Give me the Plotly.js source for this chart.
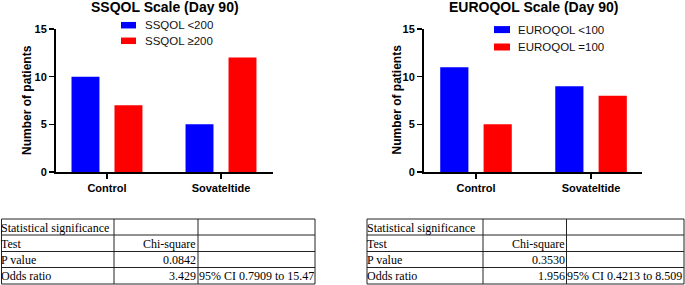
<!DOCTYPE html>
<html><head><meta charset="utf-8">
<script src="https://cdn.plot.ly/plotly-3.0.1.min.js"></script>
<style>html,body{margin:0;padding:0;background:#fff}#chart{width:685px;height:285px}</style>
</head><body><div id="chart"></div><script>
// ---- data ----
const categories = ['Control', 'Sovateltide'];
const ssqolBelow = [10, 5];
const ssqolAbove = [7, 12];
const euroqolBelow = [11, 9];
const euroqolFull = [5, 8];
const ssqolNames = ['SSQOL <200', 'SSQOL \u2265200'];
const euroqolNames = ['EUROQOL <100', 'EUROQOL =100'];
const chartTitles = ['SSQOL Scale (Day 90)', 'EUROQOL Scale (Day 90)'];
const yTickValues = [0, 5, 10, 15];
const yAxisTitle = 'Number of patients';
const rowLabels = ['Statistical significance', 'Test', 'P value', 'Odds ratio'];
const ssqolStat = ['', 'Chi-square', '0.0842', '3.429'];
const ssqolCI = ['', '', '', '95% CI 0.7909 to 15.47'];
const euroqolStat = ['', 'Chi-square', '0.3530', '1.956'];
const euroqolCI = ['', '', '', '95% CI 0.4213 to 8.509'];

// ---- style / layout helpers ----
const W = 685, H = 285;
const px = x => x / W;
const py = y => 1 - y / H;
const BLUE = '#0000ff', RED = '#ff0000';
const sans = 'Liberation Sans, Arial, sans-serif';
const serif = 'Liberation Serif, Times New Roman, serif';

const traces = [
  {type: 'bar', x: categories, y: ssqolBelow, name: ssqolNames[0], marker: {color: BLUE}, xaxis: 'x', yaxis: 'y', showlegend: false},
  {type: 'bar', x: categories, y: ssqolAbove, name: ssqolNames[1], marker: {color: RED}, xaxis: 'x', yaxis: 'y', showlegend: false},
  {type: 'bar', x: categories, y: euroqolBelow, name: euroqolNames[0], marker: {color: BLUE}, xaxis: 'x2', yaxis: 'y2', showlegend: false},
  {type: 'bar', x: categories, y: euroqolFull, name: euroqolNames[1], marker: {color: RED}, xaxis: 'x2', yaxis: 'y2', showlegend: false}
];

function xAx(d0, d1, range, anchor) {
  return {domain: [px(d0), px(d1)], range: range, anchor: anchor, type: 'category',
    showline: true, linecolor: '#000', linewidth: 2, ticks: 'outside', ticklen: 5, tickwidth: 1.5, tickcolor: '#000',
    showgrid: false, zeroline: false, fixedrange: true,
    tickfont: {family: sans, size: 11, weight: 'bold', color: '#000'}};
}
function yAx(anchor) {
  return {domain: [py(172), py(29)], range: [0, 15], anchor: anchor, tickvals: yTickValues,
    showline: true, linecolor: '#000', linewidth: 2, ticks: 'outside', ticklen: 5, tickwidth: 1.5, tickcolor: '#000',
    showgrid: false, zeroline: false, fixedrange: true,
    tickfont: {family: sans, size: 11, weight: 'bold', color: '#000'}};
}

const shapes = [];
const annotations = [];

// chart titles and y-axis titles
[[164.5, chartTitles[0], 27], [533, chartTitles[1], 396.5]].forEach(([cx, t, yx]) => {
  annotations.push({xref: 'paper', yref: 'paper', x: px(cx), y: py(7.5), xanchor: 'center', yanchor: 'middle',
    text: t, showarrow: false, font: {family: sans, size: 14, weight: 'bold', color: '#000'}});
  annotations.push({xref: 'paper', yref: 'paper', x: px(yx), y: py(100), xanchor: 'center', yanchor: 'middle', textangle: -90,
    text: yAxisTitle, showarrow: false, font: {family: sans, size: 12, weight: 'bold', color: '#000'}});
});

// legends
function legend(names, sx0, sx1, tx, rows, sh) {
  [BLUE, RED].forEach((c, i) => {
    const cy = rows[i];
    shapes.push({type: 'rect', xref: 'paper', yref: 'paper', x0: px(sx0), x1: px(sx1), y0: py(cy - sh / 2), y1: py(cy + sh / 2),
      fillcolor: c, line: {width: 0}});
    annotations.push({xref: 'paper', yref: 'paper', x: px(tx), y: py(cy), xanchor: 'left', yanchor: 'middle',
      text: names[i], showarrow: false, font: {family: sans, size: 11.5, color: '#111'}});
  });
}
legend(ssqolNames, 121, 136, 143, [25.2, 40.8], 6.5);
legend(euroqolNames, 494, 510, 516, [29.6, 47], 7);

// tables
const rowEdges = [219, 235, 251.5, 267.5, 284];
function table(colEdges, c1, c2, c3) {
  rowEdges.forEach(y => shapes.push({type: 'line', xref: 'paper', yref: 'paper', x0: px(colEdges[0]), x1: px(colEdges[3]), y0: py(y), y1: py(y), line: {color: '#222', width: 1}}));
  colEdges.forEach(x => shapes.push({type: 'line', xref: 'paper', yref: 'paper', x0: px(x), x1: px(x), y0: py(rowEdges[0]), y1: py(rowEdges[4]), line: {color: '#222', width: 1}}));
  for (let r = 0; r < 4; r++) {
    const cy = (rowEdges[r] + rowEdges[r + 1]) / 2 + 0.5;
    const f = {family: serif, size: 12, color: '#000'};
    if (c1[r]) annotations.push({xref: 'paper', yref: 'paper', x: px(colEdges[0] - 2.5), y: py(cy), xanchor: 'left', yanchor: 'middle', text: c1[r], showarrow: false, font: f});
    if (c2[r]) annotations.push({xref: 'paper', yref: 'paper', x: px(colEdges[2] + 0.3), y: py(cy), xanchor: 'right', yanchor: 'middle', text: c2[r], showarrow: false, font: f});
    if (c3[r]) annotations.push({xref: 'paper', yref: 'paper', x: px(colEdges[2] - 1.2), y: py(cy), xanchor: 'left', yanchor: 'middle', text: c3[r], showarrow: false, font: f});
  }
}
table([1.5, 114, 198, 315], rowLabels, ssqolStat, ssqolCI);
table([367, 483, 566.5, 684], rowLabels, euroqolStat, euroqolCI);

const layout = {
  width: W, height: H, margin: {l: 0, r: 0, t: 0, b: 0},
  paper_bgcolor: '#fff', plot_bgcolor: '#fff',
  barmode: 'group', bargap: 0.246, bargroupgap: 0.35,
  xaxis: xAx(56, 273, [-0.447, 1.456], 'y'),
  yaxis: yAx('x'),
  xaxis2: xAx(424, 642, [-0.452, 1.443], 'y2'),
  yaxis2: yAx('x2'),
  shapes: shapes, annotations: annotations, showlegend: false
};

Plotly.newPlot('chart', traces, layout, {displayModeBar: false, staticPlot: true});
</script></body></html>
